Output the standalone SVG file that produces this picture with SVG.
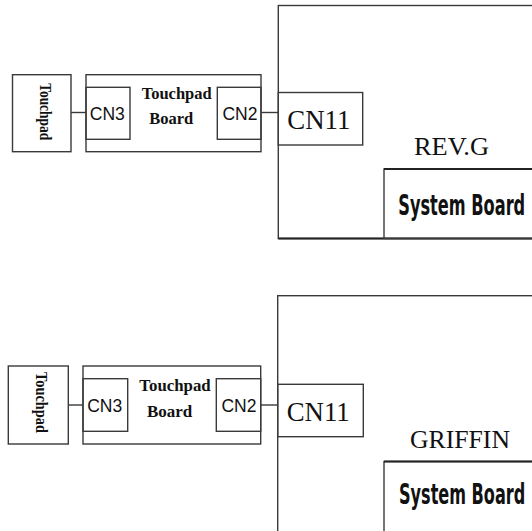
<svg xmlns="http://www.w3.org/2000/svg" width="532" height="531" viewBox="0 0 532 531">
  <style>
    .box { fill: none; stroke: #3a3a3a; stroke-width: 1.4; }
    .thick { fill: none; stroke: #222; stroke-width: 2.2; }
    .wire { fill: none; stroke: #3a3a3a; stroke-width: 1.4; }
    .tp { font-family: "Liberation Serif", serif; font-weight: bold; font-size: 17px; fill: #111; }
    .cn { font-family: "Liberation Sans", sans-serif; font-size: 17.5px; fill: #111; text-anchor: middle; }
    .cn11 { font-family: "Liberation Serif", serif; font-size: 28px; fill: #111; }
    .rev { font-family: "Liberation Serif", serif; font-size: 25px; fill: #111; }
    .sb { font-family: "DejaVu Sans", sans-serif; font-weight: bold; font-size: 29px; fill: #111; }
  </style>
  <rect width="532" height="531" fill="#ffffff"/>

  <!-- ===== Top diagram (REV.G) ===== -->
  <g id="top-system-board">
    <rect class="box" x="278.3" y="5.5" width="300" height="233"/>
    <line class="thick" x1="278.3" y1="238.5" x2="540" y2="238.5"/>
    <text class="rev" x="414" y="155" textLength="75" lengthAdjust="spacingAndGlyphs">REV.G</text>
  </g>
  <g id="top-system-board-label">
    <rect class="box" x="384" y="169" width="200" height="69.5"/>
    <line class="thick" x1="384" y1="169" x2="540" y2="169"/>
    <text class="sb" transform="translate(398.3,215) scale(0.558,1)">System Board</text>
  </g>
  <g id="top-cn11">
    <rect class="box" x="278.3" y="92.5" width="84.4" height="52.5" fill="#fff"/>
    <text class="cn11" x="287.3" y="129" textLength="63" lengthAdjust="spacingAndGlyphs">CN11</text>
  </g>
  <g id="top-touchpad">
    <rect class="box" x="12.5" y="74.7" width="58.5" height="77"/>
    <text class="tp" transform="translate(39.5,111.7) rotate(90)" text-anchor="middle" textLength="57" lengthAdjust="spacingAndGlyphs">Touchpad</text>
  </g>
  <g id="top-touchpad-board">
    <rect class="box" x="86" y="74.7" width="175" height="77"/>
    <text class="tp" x="141.7" y="99.3" textLength="70" lengthAdjust="spacingAndGlyphs">Touchpad</text>
    <text class="tp" x="149.3" y="124" textLength="44" lengthAdjust="spacingAndGlyphs">Board</text>
  </g>
  <g id="top-cn3">
    <rect class="box" x="86" y="87.3" width="44" height="52"/>
    <text class="cn" x="107.3" y="119.5">CN3</text>
  </g>
  <g id="top-cn2">
    <rect class="box" x="217.3" y="87.3" width="43.7" height="52"/>
    <text class="cn" x="240" y="119.5">CN2</text>
  </g>

  <!-- ===== Bottom diagram (GRIFFIN) ===== -->
  <g id="bottom-system-board">
    <rect class="box" x="277.7" y="295.7" width="300" height="300"/>
    <text class="rev" x="410" y="447.5" textLength="100" lengthAdjust="spacingAndGlyphs">GRIFFIN</text>
  </g>
  <g id="bottom-system-board-label">
    <rect class="box" x="384" y="461.5" width="200" height="100"/>
    <line class="thick" x1="384" y1="461.5" x2="540" y2="461.5"/>
    <text class="sb" transform="translate(399,503.5) scale(0.555,1)">System Board</text>
  </g>
  <g id="bottom-cn11">
    <rect class="box" x="277.7" y="384.3" width="85.6" height="52.4" fill="#fff"/>
    <text class="cn11" x="286.7" y="420.5" textLength="63" lengthAdjust="spacingAndGlyphs">CN11</text>
  </g>
  <g id="bottom-touchpad">
    <rect class="box" x="8.3" y="366" width="60" height="78"/>
    <text class="tp" transform="translate(35.5,402.5) rotate(90)" text-anchor="middle" textLength="61" lengthAdjust="spacingAndGlyphs">Touchpad</text>
  </g>
  <g id="bottom-touchpad-board">
    <rect class="box" x="83" y="366" width="177.7" height="78"/>
    <text class="tp" x="139.3" y="391" textLength="71.4" lengthAdjust="spacingAndGlyphs">Touchpad</text>
    <text class="tp" x="147" y="416.7" textLength="45.3" lengthAdjust="spacingAndGlyphs">Board</text>
  </g>
  <g id="bottom-cn3">
    <rect class="box" x="83" y="378.7" width="44.7" height="52.6"/>
    <text class="cn" x="104.7" y="411.8">CN3</text>
  </g>
  <g id="bottom-cn2">
    <rect class="box" x="216.3" y="378.7" width="44.4" height="52.6"/>
    <text class="cn" x="239" y="411.8">CN2</text>
  </g>

  <!-- ===== Connectors ===== -->
  <g id="connectors">
    <line class="wire" x1="71" y1="112.5" x2="86" y2="112.5"/>
    <line class="wire" x1="261" y1="112.5" x2="278.3" y2="112.5"/>
    <line class="wire" x1="68.3" y1="405" x2="83" y2="405"/>
    <line class="wire" x1="260.7" y1="405" x2="277.7" y2="405"/>
  </g>
</svg>
